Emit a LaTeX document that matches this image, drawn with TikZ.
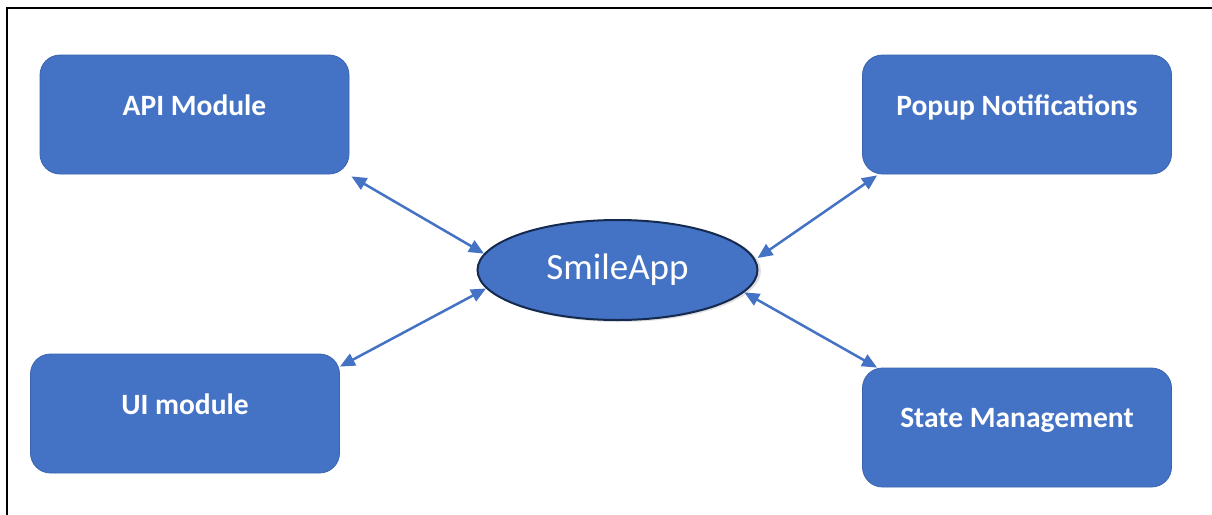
\documentclass[tikz,border=0pt]{standalone}
\usepackage{fontspec}
\setmainfont{Carlito}
\usetikzlibrary{arrows.meta,shapes.geometric}
\definecolor{blockblue}{HTML}{4472C4}
\definecolor{blockedge}{HTML}{3A64AE}
\definecolor{hubedge}{HTML}{152A4F}
\newcommand\lifttext[1]{\raisebox{19pt}{#1}}
\begin{document}
\begin{tikzpicture}[x=1pt,y=-1pt,
  modbox/.style={draw=blockedge, line width=0.8pt, fill=blockblue, rounded corners=20pt,
    minimum width=309pt, minimum height=119pt, inner sep=0pt,
    text=white, font=\fontsize{29.5}{33}\selectfont\bfseries},
  hub/.style={ellipse, draw=hubedge, line width=2pt, fill=blockblue,
    minimum width=280pt, minimum height=100pt, inner sep=0pt,
    text=white, font=\fontsize{37}{42}\selectfont},
  link/.style={draw=blockblue, line width=2.5pt,
    {Triangle[length=15pt,width=13pt]}-{Triangle[length=15pt,width=13pt]}}]
\useasboundingbox (0,0) rectangle (1212,514);
% frame lines along the top and left edges
\draw[line width=2pt, line cap=rect] (1212,8) -- (7,8) -- (7,514);

% central application
\fill[black!25, opacity=0.5] (620,271) ellipse [x radius=141pt, y radius=51pt];
\node[hub] (app) at (617.5,270) {SmileApp};

% surrounding modules
\node[modbox] (api) at (194.5,114.5) {\lifttext{API Module}};
\node[modbox] (pop) at (1017,114.5) {\lifttext{Popup Notifications}};
\node[modbox] (ui)  at (185,413.5) {\lifttext{UI module}};
\node[modbox] (state) at (1017,427.5) {\lifttext{State Management}};

% links between the hub and the modules
\draw[link] ([shift={(2pt,-2pt)}]api.south east) -- (app.173.6);
\draw[link] ([yshift=-13pt]ui.north east) -- (app.188.9);
\draw[link] ([shift={(15pt,-1pt)}]pop.south west) -- ([xshift=3pt]app.5.9);
\draw[link] ([xshift=15pt]state.north west) -- (app.-10.1);
\end{tikzpicture}
\end{document}
